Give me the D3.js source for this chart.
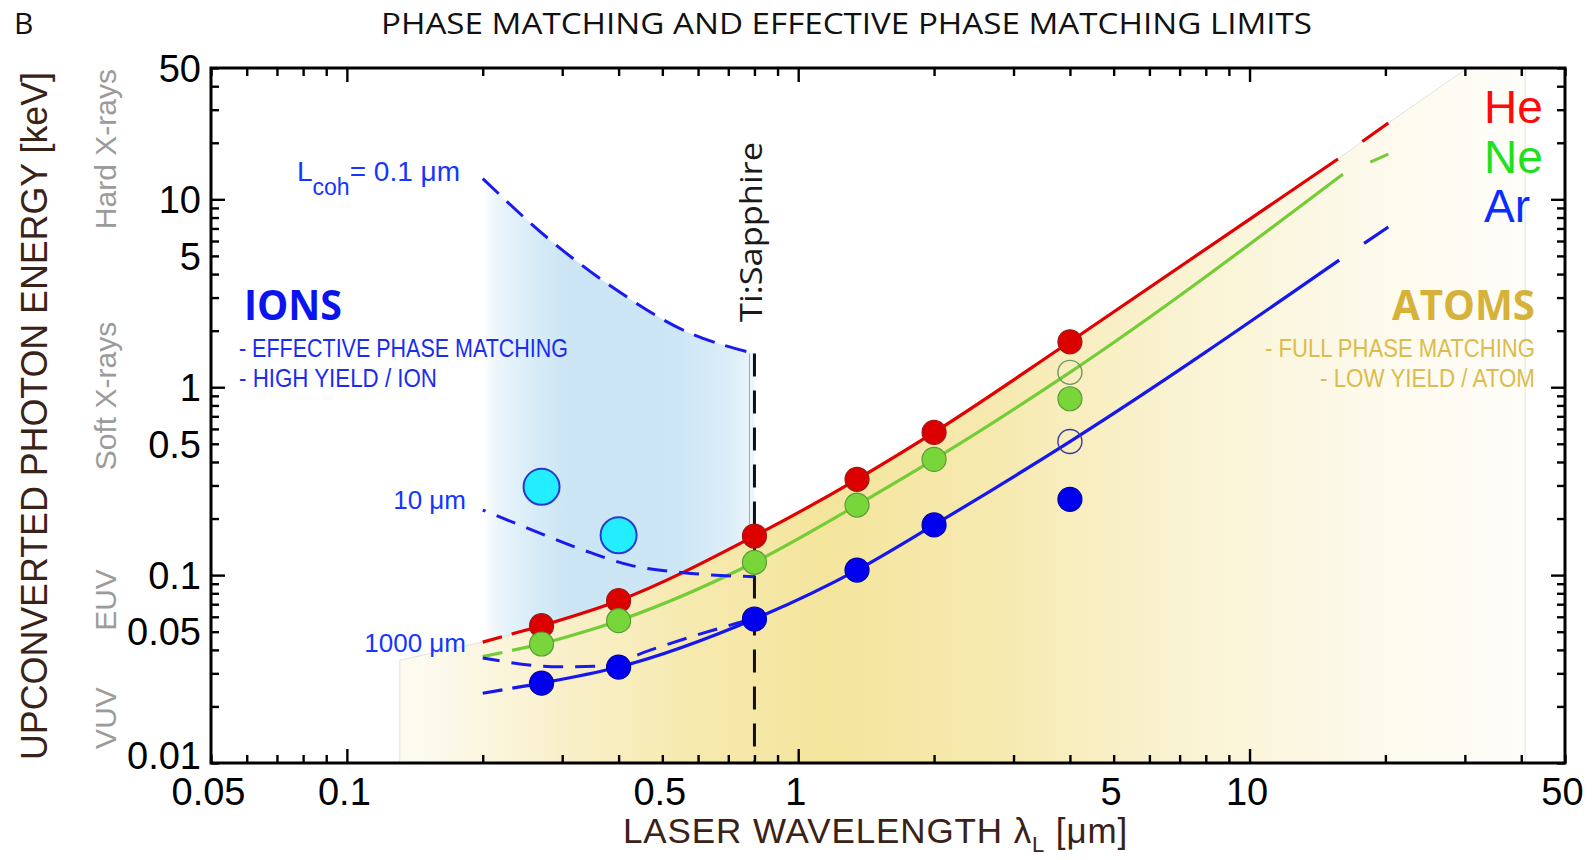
<!DOCTYPE html>
<html>
<head>
<meta charset="utf-8">
<script src="https://cdn.jsdelivr.net/npm/d3@7"></script>
<style>
  body { margin: 0; background: #fff; }
  svg { display: block; }
</style>
</head>
<body>
<svg id="chart" width="1595" height="860"></svg>
<script>
// ---- axis ticks ----
const xTickValues = [0.05, 0.1, 0.5, 1, 5, 10, 50];
const xTickLabels = ["0.05", "0.1", "0.5", "1", "5", "10", "50"];
const yTickValues = [0.01, 0.05, 0.1, 0.5, 1, 5, 10, 50];
const yTickLabels = ["0.01", "0.05", "0.1", "0.5", "1", "5", "10", "50"];
const majorTicks = [0.1, 1, 10];

// ---- measured cutoffs (keV) vs driving wavelength (µm) ----
const driveWavelength = [0.27, 0.4, 0.8, 1.35, 2, 4];
const heCutoff = [0.0538, 0.0731, 0.1615, 0.3235, 0.575, 1.745];
const neCutoff = [0.0430, 0.0572, 0.117, 0.236, 0.413, 0.868];
const arCutoff = [0.0266, 0.0324, 0.0584, 0.1064, 0.185, 0.253];

// open symbols at 4 µm (on the phase-matching curves)
const openWavelength = [4, 4];
const openEnergy = [1.20, 0.514];
const openGas = ["Ne", "Ar"];

// ion results (UV drivers)
const ionWavelength = [0.27, 0.4];
const ionEnergy = [0.295, 0.163];

// ---- full phase-matching limits for atoms ----
const heLimitX = [0.2, 0.27, 0.4, 0.8, 1.35, 2, 4, 15.7, 20.3];
const heLimitY = [0.044, 0.0538, 0.0731, 0.1615, 0.3235, 0.575, 1.745, 16.4, 25.5];
const neLimitX = [0.2, 0.27, 0.4, 0.8, 1.35, 2, 4, 16.1, 20.3];
const neLimitY = [0.0368, 0.043, 0.0572, 0.117, 0.236, 0.413, 1.20, 13.6, 17.4];
const arLimitX = [0.2, 0.27, 0.4, 0.8, 1.35, 2, 4, 15.8, 20.3];
const arLimitY = [0.0235, 0.0266, 0.0324, 0.0584, 0.1064, 0.185, 0.514, 4.75, 7.12];

// ---- effective phase-matching limits for ions (coherence length) ----
const lcoh01X = [0.2, 0.282, 0.396, 0.557, 0.8];
const lcoh01Y = [12.9, 6.07, 3.29, 2.01, 1.51];
const lcoh10X = [0.2, 0.252, 0.334, 0.424, 0.557, 0.8];
const lcoh10Y = [0.222, 0.1775, 0.136, 0.113, 0.103, 0.098];
const lcoh1000X = [0.2, 0.297, 0.366, 0.47, 0.596, 0.731, 0.8];
const lcoh1000Y = [0.0362, 0.0325, 0.0328, 0.0399, 0.048, 0.0554, 0.059];

// atoms region: under the He limit, extended to the top of the plot
const atomsLeftX = 0.131, atomsLeftY = 0.0353;
const atomsTopX = [30.4, 40.8];
const atomsTopY = [50, 50];

const tiSapphire = 0.8;

// spectral band names on the energy axis
const bandNames = ["Hard X-rays", "Soft X-rays", "EUV", "VUV"];
const bandCenters = [18.5, 0.898, 0.0737, 0.01735];

const gasNames = ["He", "Ne", "Ar"];

// ---- styles ----
const gasLine = { He: "#e30000", Ne: "#74cc36", Ar: "#1616ee" };
const gasFill = { He: "#dd0000", Ne: "#78d63a", Ar: "#0000ee" };
const gasEdge = { He: "#9a1a1a", Ne: "#5a9a3a", Ar: "#0000a8" };
const gasText = { He: "#ff0a0a", Ne: "#1fe01f", Ar: "#0a2cff" };
const ionBlue = "#1a2cf0";
const gold = "#d6b23a";

const svg = d3.select("#chart");
const L = 211, R = 1565, T = 68, B = 763;
const x = d3.scaleLog().domain([0.05, 50]).range([L, R]);
const y = d3.scaleLog().domain([0.01, 50]).range([B, T]);
const zip = (a, b) => a.map((v, i) => [v, b[i]]);

const line = d3.line().x(d => x(d[0])).y(d => y(d[1])).curve(d3.curveMonotoneX);
const straight = d3.line().x(d => x(d[0])).y(d => y(d[1]));

// ---- gradients ----
const defs = svg.append("defs");
const gy = defs.append("linearGradient").attr("id", "atomsFill")
  .attr("gradientUnits", "userSpaceOnUse")
  .attr("x1", x(atomsLeftX)).attr("x2", x(atomsTopX[1])).attr("y1", 0).attr("y2", 0);
[[0, "#fdfbf1"], [0.04, "#fcf9ea"], [0.14, "#f9f0cb"], [0.27, "#f6e9ad"],
 [0.38, "#f4e59d"], [0.52, "#f6e9ae"], [0.7, "#faf3d3"], [0.88, "#fdfaee"], [1, "#fefdf9"]]
  .forEach(s => gy.append("stop").attr("offset", s[0]).attr("stop-color", s[1]));

const gb = defs.append("linearGradient").attr("id", "ionsFill")
  .attr("gradientUnits", "userSpaceOnUse")
  .attr("x1", x(lcoh01X[0])).attr("x2", x(tiSapphire)).attr("y1", 0).attr("y2", 0);
[[0, "#ffffff"], [0.06, "#eaf4fb"], [0.2, "#d6ebf7"], [0.32, "#cce5f4"],
 [0.72, "#cde6f5"], [0.9, "#dbedf8"], [1, "#edf5fb"]]
  .forEach(s => gb.append("stop").attr("offset", s[0]).attr("stop-color", s[1]));

// ---- shaded regions ----
const ionsArea = d3.area().x(d => x(d[0])).y0(B).y1(d => y(d[1])).curve(d3.curveMonotoneX);
svg.append("path").datum(zip(lcoh01X, lcoh01Y))
  .attr("d", ionsArea).attr("fill", "url(#ionsFill)");

// thin edge on the ion region at the Ti:Sapphire wavelength
svg.append("line")
  .attr("x1", x(tiSapphire) - 5).attr("x2", x(tiSapphire) - 5)
  .attr("y1", y(lcoh01Y[lcoh01Y.length - 1])).attr("y2", y(heCutoff[2]))
  .attr("stroke", "#a8a8a8").attr("stroke-width", 1);

// atoms region: left edge, along the He limit, straight on to the top frame
const heEdge = line(zip(heLimitX, heLimitY));
const atomsPath = `M${x(atomsLeftX)},${B}L${x(atomsLeftX)},${y(atomsLeftY)}L` + heEdge.slice(1) +
  atomsTopX.map((v, i) => `L${x(v)},${y(atomsTopY[i])}`).join("") +
  `L${x(atomsTopX[atomsTopX.length - 1])},${B}Z`;
svg.append("path").attr("d", atomsPath).attr("fill", "url(#atomsFill)")
  .attr("stroke", "#dcdcd4").attr("stroke-width", 0.8);

// ---- Ti:Sapphire marker ----
svg.append("line")
  .attr("x1", x(tiSapphire)).attr("x2", x(tiSapphire))
  .attr("y1", y(lcoh01Y[lcoh01Y.length - 1])).attr("y2", B)
  .attr("stroke", "#111").attr("stroke-width", 3).attr("stroke-dasharray", "23,14");

// ---- phase-matching limits (atoms) ----
const limits = [
  ["He", zip(heLimitX, heLimitY)],
  ["Ne", zip(neLimitX, neLimitY)],
  ["Ar", zip(arLimitX, arLimitY)]
];
limits.forEach(([gas, pts]) => {
  const n = pts.length;
  const g = svg.append("g").attr("fill", "none").attr("stroke", gasLine[gas]).attr("stroke-width", 3.2);
  g.append("path").attr("d", straight(pts.slice(0, 2))).attr("stroke-dasharray", "20,10");
  g.append("path").attr("d", line(pts.slice(1, n - 1)));
  g.append("path").attr("d", straight(pts.slice(n - 2))).attr("stroke-dasharray", "0,30,100");
});

// ---- coherence-length limits (ions) ----
const lg = svg.append("g").attr("fill", "none").attr("stroke", "#1a1aee").attr("stroke-width", 3);
lg.append("path").attr("d", line(zip(lcoh01X, lcoh01Y))).attr("stroke-dasharray", "22,11");
lg.append("path").attr("d", line(zip(lcoh10X, lcoh10Y))).attr("stroke-dasharray", "20,12").attr("stroke-dashoffset", 17);
lg.append("path").attr("d", line(zip(lcoh1000X, lcoh1000Y))).attr("stroke-dasharray", "20,12").attr("stroke-dashoffset", 3);

// ---- data points ----
const pg = svg.append("g");
[["He", heCutoff], ["Ne", neCutoff], ["Ar", arCutoff]].forEach(([gas, vals]) => {
  pg.selectAll(null).data(zip(driveWavelength, vals)).join("circle")
    .attr("cx", d => x(d[0])).attr("cy", d => y(d[1])).attr("r", 12)
    .attr("fill", gasFill[gas]).attr("stroke", gasEdge[gas]).attr("stroke-width", 1.2);
});
pg.selectAll(null).data(openWavelength.map((w, i) => [w, openEnergy[i], openGas[i]])).join("circle")
  .attr("cx", d => x(d[0])).attr("cy", d => y(d[1])).attr("r", 12)
  .attr("fill", "none").attr("stroke", d => d[2] === "Ne" ? "#6f9a5f" : "#3a3aa0").attr("stroke-width", 1.4);
pg.selectAll(null).data(zip(ionWavelength, ionEnergy)).join("circle")
  .attr("cx", d => x(d[0])).attr("cy", d => y(d[1])).attr("r", 18)
  .attr("fill", "#22eeff").attr("stroke", "#2a3acc").attr("stroke-width", 2);

// ---- axes (ticks point inward on all four sides) ----
const minorX = x.ticks().filter(v => !majorTicks.includes(v));
const minorY = y.ticks().filter(v => !majorTicks.includes(v));
function tickAxis(axisFn, scale, values, size, tx, ty) {
  const g = svg.append("g").attr("transform", `translate(${tx},${ty})`)
    .call(axisFn(scale).tickValues(values).tickSize(-size).tickFormat(""));
  g.select(".domain").remove();
  g.selectAll(".tick line").attr("stroke", "#000").attr("stroke-width", 2.4);
}
[[minorX, 8], [majorTicks, 14]].forEach(([vals, s]) => {
  tickAxis(d3.axisBottom, x, vals, s, 0, B);
  tickAxis(d3.axisTop, x, vals, s, 0, T);
});
[[minorY, 8], [majorTicks, 14]].forEach(([vals, s]) => {
  tickAxis(d3.axisLeft, y, vals, s, L, 0);
  tickAxis(d3.axisRight, y, vals, s, R, 0);
});

const tickFont = "'Liberation Sans', Arial, Helvetica, sans-serif";
const xl = svg.append("g").attr("transform", `translate(0,${B})`)
  .call(d3.axisBottom(x).tickValues(xTickValues).tickSize(0).tickPadding(15)
    .tickFormat((d, i) => xTickLabels[i]));
xl.select(".domain").remove();
xl.selectAll("text").attr("font-family", tickFont).attr("font-size", 38).attr("fill", "#000").attr("dx", -3);

const yl = svg.append("g").attr("transform", `translate(${L},0)`)
  .call(d3.axisLeft(y).tickValues(yTickValues).tickSize(0).tickPadding(10)
    .tickFormat((d, i) => yTickLabels[i]));
yl.select(".domain").remove();
yl.selectAll("text").attr("font-family", tickFont).attr("font-size", 38).attr("fill", "#000")
  .attr("dy", d => d === 0.01 ? "0.14em" : "0.35em");

svg.append("rect").attr("x", L).attr("y", T).attr("width", R - L).attr("height", B - T)
  .attr("fill", "none").attr("stroke", "#000").attr("stroke-width", 3);

// ---- titles ----
const sans = "'Open Sans', 'Noto Sans', sans-serif";
svg.append("text").attr("x", 14).attr("y", 34).attr("font-family", sans).attr("font-size", 30)
  .attr("fill", "#111").text("B");
svg.append("text").attr("x", 381).attr("y", 34).attr("font-family", sans).attr("font-size", 30)
  .attr("fill", "#111").attr("textLength", 931).attr("lengthAdjust", "spacingAndGlyphs")
  .text("PHASE MATCHING AND EFFECTIVE PHASE MATCHING LIMITS");

const brown = "#3a2216";
svg.append("text").attr("transform", "translate(47,416) rotate(-90)")
  .attr("text-anchor", "middle").attr("font-family", tickFont).attr("font-size", 36)
  .attr("fill", brown).attr("textLength", 688).attr("lengthAdjust", "spacingAndGlyphs")
  .text("UPCONVERTED PHOTON ENERGY [keV]");

const xt = svg.append("text").attr("x", 623).attr("y", 843)
  .attr("font-family", tickFont).attr("font-size", 35).attr("letter-spacing", 0.9).attr("fill", brown);
xt.append("tspan").text("LASER WAVELENGTH λ");
xt.append("tspan").attr("font-size", 22).attr("dy", 9).text("L");
xt.append("tspan").attr("dy", -9).text(" [μm]");

// spectral bands
svg.selectAll(null).data(bandNames).join("text")
  .attr("transform", (d, i) => `translate(116,${y(bandCenters[i])}) rotate(-90)`)
  .attr("text-anchor", "middle").attr("font-family", tickFont).attr("font-size", 30)
  .attr("fill", "#9b9b9b").text(d => d);

// Ti:Sapphire label
svg.append("text").attr("transform", `translate(${x(tiSapphire) + 8},322) rotate(-90)`)
  .attr("font-family", sans).attr("font-size", 31).attr("fill", "#1a1a1a")
  .attr("textLength", 180).attr("lengthAdjust", "spacingAndGlyphs").text("Ti:Sapphire");

// coherence length labels
const lbl = svg.append("g").attr("font-family", tickFont).attr("fill", "#1436ff");
const lc = lbl.append("text").attr("x", 297).attr("y", 181).attr("font-size", 28);
lc.append("tspan").text("L");
lc.append("tspan").attr("font-size", 23).attr("dy", 14).text("coh");
lc.append("tspan").attr("dy", -14).text("= 0.1 μm");
lbl.append("text").attr("x", 466).attr("y", 509).attr("text-anchor", "end").attr("font-size", 26).text("10 μm");
lbl.append("text").attr("x", 466).attr("y", 652).attr("text-anchor", "end").attr("font-size", 26).text("1000 μm");

// region annotations
function note(txt, xx, yy, size, len, color, weight, anchor, family) {
  svg.append("text").attr("x", xx).attr("y", yy).attr("font-family", family)
    .attr("font-size", size).attr("font-weight", weight).attr("fill", color)
    .attr("text-anchor", anchor).attr("textLength", len).attr("lengthAdjust", "spacingAndGlyphs")
    .text(txt);
}
note("IONS", 244, 320, 41, 98, "#0a14ee", 700, "start", sans);
note("- EFFECTIVE PHASE MATCHING", 239, 357, 25, 329, ionBlue, 400, "start", tickFont);
note("- HIGH YIELD / ION", 239, 387, 25, 198, ionBlue, 400, "start", tickFont);
note("ATOMS", 1535, 320, 41, 143, gold, 700, "end", sans);
note("- FULL PHASE MATCHING", 1535, 357, 25, 270, "#dcbc4c", 400, "end", tickFont);
note("- LOW YIELD / ATOM", 1535, 387, 25, 215, "#dcbc4c", 400, "end", tickFont);

// gas legend
svg.selectAll(null).data(gasNames).join("text")
  .attr("x", 1484).attr("y", (d, i) => 123 + i * 49.5)
  .attr("font-family", tickFont).attr("font-size", 46)
  .attr("fill", d => gasText[d]).text(d => d);
</script>
</body>
</html>
